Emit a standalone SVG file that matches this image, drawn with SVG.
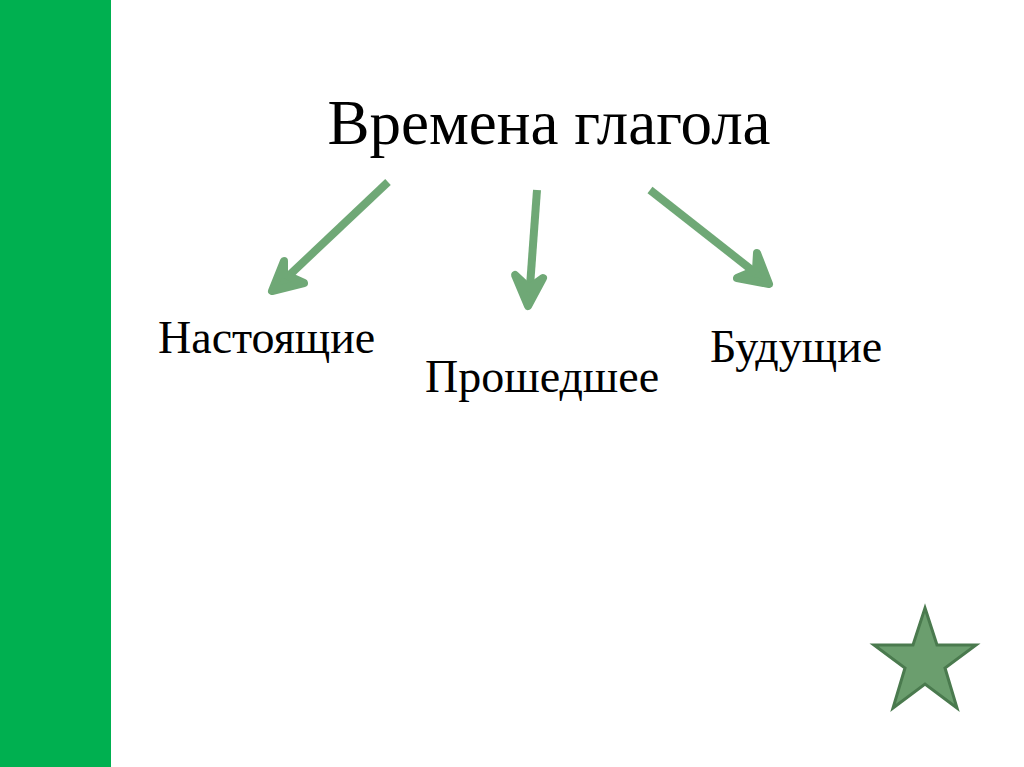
<svg xmlns="http://www.w3.org/2000/svg" width="1024" height="767" viewBox="0 0 1024 767">
<style>
text{font-family:"Liberation Serif","Times New Roman",serif;fill:#000}
.arrow{stroke:#6FA876;stroke-width:8;fill:none;stroke-linecap:butt}
.head{fill:#6FA876;stroke:#6FA876;stroke-width:8;stroke-linejoin:round;stroke-linecap:round}
</style>
<rect x="0" y="0" width="1024" height="767" fill="#ffffff"/>
<rect x="0" y="0" width="111" height="767" fill="#00B050"/>
<g id="title"><text x="549" y="144" font-size="63" text-anchor="middle">Времена глагола</text></g>
<g id="present"><text x="158" y="353" font-size="46">Настоящие</text></g>
<g id="past"><text x="425" y="392" font-size="46">Прошедшее</text></g>
<g id="future"><text x="710" y="362" font-size="46">Будущие</text></g>
<g id="connectors">
<line class="arrow" x1="388" y1="182" x2="280" y2="284"/>
<path class="head" d="M284,261 L272,291 L304,283 L284,274 Z"/>
<line class="arrow" x1="537" y1="190" x2="529" y2="300"/>
<path class="head" d="M515,275 L528,306 L543,278 L529,288 Z"/>
<line class="arrow" x1="650" y1="190" x2="762" y2="278"/>
<path class="head" d="M757,253 L769,284 L737,278 L756,270 Z"/>
</g>
<g id="star"><polygon points="925,608 937,645 976,645 945,668 957,708 925,684 893,708 905,668 874,645 913,645" fill="#6B9E6E" stroke="#4A7A4E" stroke-width="3" stroke-linejoin="miter"/></g>
</svg>
